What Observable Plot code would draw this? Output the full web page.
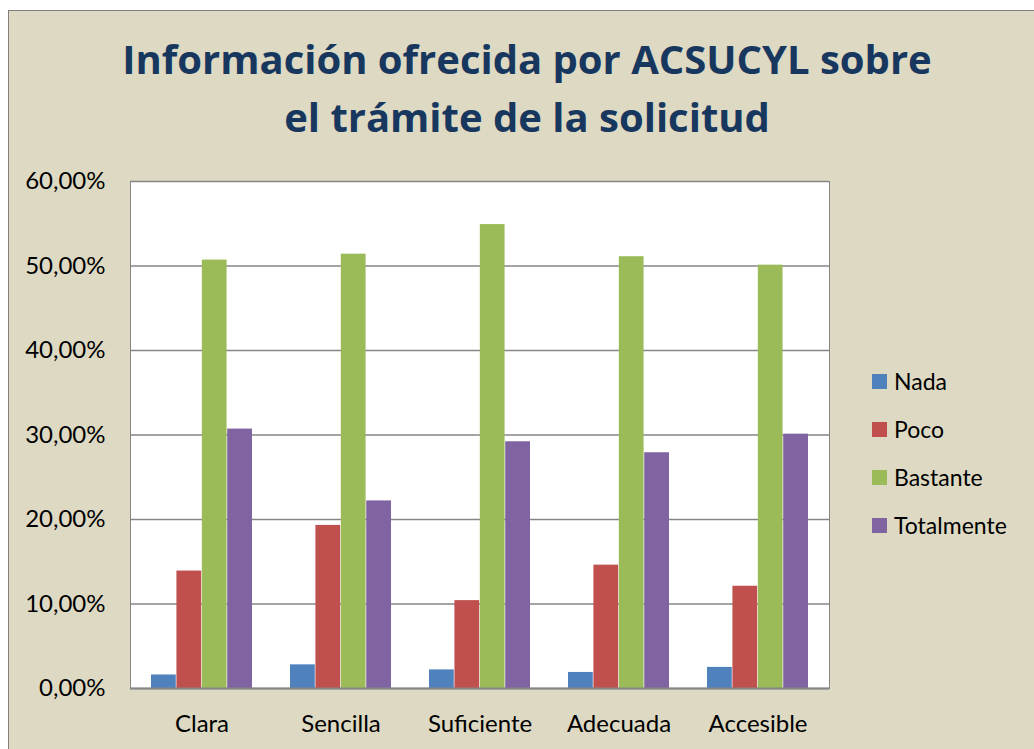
<!DOCTYPE html>
<html>
<head>
<meta charset="utf-8">
<script src="https://cdn.jsdelivr.net/npm/d3@7"></script>
<script src="https://cdn.jsdelivr.net/npm/@observablehq/plot@0.6"></script>
<style>
  html, body { margin: 0; padding: 0; background: #fff; }
  #chart { position: relative; width: 1034px; height: 749px; overflow: hidden; background: #fff; }
  #bg { position: absolute; left: 8px; top: 10px; width: 1040px; height: 760px; background: #DDD9C3; border: 1px solid #7f7f7f; box-sizing: border-box; }
  #title { position: absolute; left: 0; top: 30px; width: 1054px; text-align: center; font-family: "Open Sans", sans-serif; font-weight: 700; font-size: 40px; line-height: 58px; color: #17375E; }
  #plot { position: absolute; left: 0; top: 160px; }
  #legend { position: absolute; left: 872px; top: 357px; font-family: Lato, sans-serif; font-size: 23px; color: #000; }
  #legend .row { height: 48px; display: flex; align-items: center; }
  #legend .sw { width: 15px; height: 15px; margin-right: 7px; }
</style>
</head>
<body>
<div id="chart">
  <div id="bg"></div>
  <div id="title">Información ofrecida por ACSUCYL sobre<br>el trámite de la solicitud</div>
  <div id="plot"></div>
  <div id="legend"></div>
</div>
<script>
const categories = ["Clara", "Sencilla", "Suficiente", "Adecuada", "Accesible"];
const series = ["Nada", "Poco", "Bastante", "Totalmente"];
const nada = [1.6, 2.8, 2.2, 1.9, 2.5];
const poco = [13.9, 19.3, 10.4, 14.6, 12.1];
const bastante = [50.7, 51.4, 54.9, 51.1, 50.1];
const totalmente = [30.7, 22.2, 29.2, 27.9, 30.1];
const colors = ["#4F81BD", "#C0504D", "#9BBB59", "#8064A2"];
const yTicks = [0, 10, 20, 30, 40, 50, 60];

const seriesValues = [nada, poco, bastante, totalmente];
const data = categories.flatMap((c, i) =>
  series.map((s, j) => ({category: c, series: s, value: seriesValues[j][i]}))
);
const fmt = d => d.toFixed(2).replace(".", ",") + "%";

// layout
const W = 1034, H = 589, mL = 130, mR = 205, mT = 21, mB = 61;
const padIn = 0.273, padOut = 0.1365;
const step = (W - mL - mR) / (categories.length - padIn + 2 * padOut);
const bw = step * (1 - padIn);
const barW = bw / series.length;

const chart = Plot.plot({
  width: W,
  height: H,
  marginTop: mT,
  marginBottom: mB,
  marginLeft: mL,
  marginRight: mR,
  style: {background: "transparent", fontFamily: "Lato, sans-serif", fontSize: "24px", color: "#000", overflow: "visible"},
  x: {domain: categories, paddingInner: padIn, paddingOuter: padOut, label: null, tickSize: 0, tickPadding: 26},
  y: {domain: [0, 60], ticks: yTicks, tickFormat: fmt, tickSize: 0, tickPadding: 25, label: null},
  color: {domain: series, range: colors},
  marks: [
    Plot.frame({fill: "white", stroke: "#868686"}),
    Plot.gridY(yTicks, {stroke: "#868686", strokeOpacity: 1, strokeWidth: 1.5}),
    ...series.map((s, j) =>
      Plot.barY(data.filter(d => d.series === s), {
        x: "category", y: "value", fill: "series",
        insetLeft: j * barW, insetRight: (series.length - 1 - j) * barW
      })
    ),
    Plot.ruleY([0], {stroke: "#868686", strokeWidth: 2}),
    Plot.axisX({tickSize: 0, tickPadding: 26, label: null}),
    Plot.axisY({ticks: yTicks, tickFormat: fmt, tickSize: 0, tickPadding: 25, label: null})
  ]
});
document.getElementById("plot").appendChild(chart);

const legend = document.getElementById("legend");
series.forEach((s, i) => {
  const row = document.createElement("div");
  row.className = "row";
  const sw = document.createElement("div");
  sw.className = "sw";
  sw.style.background = colors[i];
  const label = document.createElement("span");
  label.textContent = s;
  row.appendChild(sw);
  row.appendChild(label);
  legend.appendChild(row);
});
</script>
</body>
</html>
